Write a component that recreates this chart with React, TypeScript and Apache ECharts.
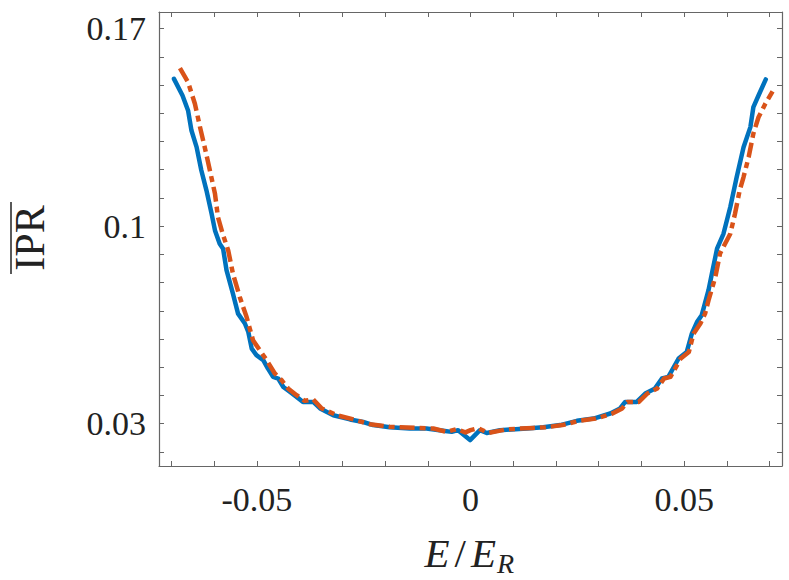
import React, { useEffect, useRef } from "react";
import * as echarts from "echarts";

// ---- data ----
const blueE = [
  -0.0694, -0.0674, -0.0661, -0.0653, -0.0641, -0.063, -0.0618, -0.0606, -0.0598, -0.0587,
  -0.0579, -0.0571, -0.0556, -0.0544, -0.0528, -0.052, -0.0512, -0.0501, -0.0485, -0.0474,
  -0.0462, -0.045, -0.0438, -0.0423, -0.0407, -0.0392, -0.0368, -0.0352, -0.0321, -0.0282,
  -0.0251, -0.0228, -0.0189, -0.0142, -0.0103, -0.0064, -0.0044, -0.0029, -0.0001, 0.0022,
  0.0038, 0.0069, 0.0132, 0.017, 0.021, 0.0249, 0.0288, 0.0327, 0.035, 0.0362,
  0.0389, 0.0409, 0.0432, 0.0448, 0.0463, 0.0487, 0.0506, 0.0518, 0.053, 0.0541,
  0.0557, 0.0565, 0.0577, 0.0592, 0.0608, 0.0623, 0.0639, 0.0655, 0.0662, 0.0674, 0.0691,
];
const blueIPR = [
  0.1522, 0.1463, 0.141, 0.1339, 0.128, 0.1198, 0.1127, 0.1045, 0.0985, 0.0938,
  0.092, 0.0844, 0.0761, 0.069, 0.0655, 0.0625, 0.0566, 0.0543, 0.0525, 0.0495,
  0.0466, 0.046, 0.043, 0.0413, 0.0395, 0.0377, 0.0377, 0.0354, 0.033, 0.0315,
  0.0306, 0.0295, 0.0287, 0.0283, 0.0283, 0.0275, 0.0271, 0.0277, 0.0242, 0.0277,
  0.0267, 0.0277, 0.0283, 0.0287, 0.0295, 0.031, 0.0318, 0.0336, 0.0354, 0.0377,
  0.0377, 0.0407, 0.0425, 0.046, 0.0466, 0.0531, 0.0554, 0.0619, 0.066, 0.0684,
  0.0773, 0.0832, 0.092, 0.0973, 0.1068, 0.1174, 0.128, 0.1351, 0.1422, 0.1463, 0.152,
];
const orangeE = [
  -0.068, -0.0661, -0.0645, -0.0633, -0.0622, -0.061, -0.0598, -0.0591, -0.058, -0.0567,
  -0.0556, -0.054, -0.0524, -0.0509, -0.0493, -0.0477, -0.0458, -0.0442, -0.0427, -0.0407,
  -0.0388, -0.0368, -0.0348, -0.0313, -0.0274, -0.0235, -0.0189, -0.0126, -0.0087, -0.0056,
  -0.0032, -0.0012, 0.0, 0.0018, 0.0041, 0.0085, 0.0147, 0.0175, 0.0215, 0.0254,
  0.0293, 0.0332, 0.0355, 0.0367, 0.0394, 0.0414, 0.0437, 0.0453, 0.0468, 0.0492,
  0.0511, 0.0522, 0.0538, 0.0549, 0.0557, 0.0573, 0.0584, 0.0608, 0.0619, 0.063,
  0.0639, 0.0651, 0.0662, 0.0674, 0.069, 0.0707,
];
const orangeIPR = [
  0.156, 0.151, 0.1434, 0.1351, 0.128, 0.1198, 0.1115, 0.1032, 0.0973, 0.0914,
  0.0832, 0.0749, 0.0678, 0.0596, 0.056, 0.0525, 0.0478, 0.0454, 0.0425, 0.0401,
  0.0381, 0.0386, 0.0354, 0.033, 0.0315, 0.0298, 0.0289, 0.0285, 0.0283, 0.0271,
  0.0281, 0.0269, 0.0277, 0.0284, 0.0267, 0.028, 0.0285, 0.0287, 0.0295, 0.031,
  0.0318, 0.0336, 0.0354, 0.0377, 0.0377, 0.0407, 0.0425, 0.046, 0.0466, 0.0531,
  0.0554, 0.0619, 0.0655, 0.069, 0.0737, 0.082, 0.0903, 0.0973, 0.1044, 0.1127,
  0.1174, 0.1245, 0.1328, 0.1386, 0.1434, 0.1478,
];
const xTickValues = [-0.07, -0.06, -0.05, -0.04, -0.03, -0.02, -0.01, 0, 0.01, 0.02, 0.03, 0.04, 0.05, 0.06, 0.07];
const xLabelValues = [-0.05, 0, 0.05];
const yTickValues = [0.02, 0.03, 0.04, 0.05, 0.06, 0.07, 0.08, 0.09, 0.1, 0.11, 0.12, 0.13, 0.14, 0.15, 0.16, 0.17];
const yLabelValues = [0.03, 0.1, 0.17];

const SERIF = "Liberation Serif";
const AXIS_COLOR = "#666666";
const TEXT_COLOR = "#222222";

export default function App() {
  const ref = useRef<HTMLDivElement>(null);

  useEffect(() => {
    if (!ref.current) return;
    const chart = echarts.init(ref.current, undefined, { renderer: "svg" });

    const tickStyle = { show: true, inside: true, length: 5, lineStyle: { color: AXIS_COLOR, width: 1 } };
    const lineStyle = { show: true, onZero: false, lineStyle: { color: AXIS_COLOR, width: 1.2 } };

    const option: any = {
      animation: false,
      backgroundColor: "#ffffff",
      grid: { left: 159, right: 7, top: 12, bottom: 114, containLabel: false },
      xAxis: [
        {
          type: "value",
          position: "bottom",
          min: -0.0729,
          max: 0.0729,
          axisLine: lineStyle,
          axisTick: { ...tickStyle, customValues: xTickValues },
          axisLabel: {
            customValues: xLabelValues,
            fontFamily: SERIF,
            fontSize: 34,
            color: TEXT_COLOR,
            margin: 16,
            formatter: (v: number) => String(Math.round(v * 100) / 100),
          },
          splitLine: { show: false },
        },
        {
          type: "value",
          position: "top",
          min: -0.0729,
          max: 0.0729,
          axisLine: lineStyle,
          axisTick: { ...tickStyle, customValues: xTickValues },
          axisLabel: { show: false },
          splitLine: { show: false },
        },
      ],
      yAxis: [
        {
          type: "value",
          position: "left",
          min: 0.015,
          max: 0.1759,
          axisLine: lineStyle,
          axisTick: { ...tickStyle, customValues: yTickValues },
          axisLabel: {
            customValues: yLabelValues,
            fontFamily: SERIF,
            fontSize: 34,
            color: TEXT_COLOR,
            margin: 13,
            formatter: (v: number) => String(Math.round(v * 100) / 100),
          },
          splitLine: { show: false },
        },
        {
          type: "value",
          position: "right",
          min: 0.015,
          max: 0.1759,
          axisLine: lineStyle,
          axisTick: { ...tickStyle, customValues: yTickValues },
          axisLabel: { show: false },
          splitLine: { show: false },
        },
      ],
      series: [
        {
          type: "line",
          name: "blue",
          xAxisIndex: 0,
          yAxisIndex: 0,
          data: blueE.map((e, i) => [e, blueIPR[i]]),
          showSymbol: false,
          lineStyle: { color: "#0072BD", width: 4.5, cap: "round", join: "round" },
          z: 2,
        },
        {
          type: "line",
          name: "orange",
          xAxisIndex: 0,
          yAxisIndex: 0,
          data: orangeE.map((e, i) => [e, orangeIPR[i]]),
          showSymbol: false,
          lineStyle: { color: "#D95319", width: 4.5, type: [15, 5, 6, 5], join: "round" },
          z: 3,
        },
      ],
      graphic: [
        {
          type: "group",
          x: 30,
          y: 238,
          rotation: Math.PI / 2,
          children: [
            {
              type: "text",
              x: 0,
              y: 0,
              style: {
                text: "IPR",
                fontFamily: SERIF,
                fontSize: 42,
                fill: TEXT_COLOR,
                align: "center",
                verticalAlign: "middle",
              },
            },
            {
              type: "line",
              shape: { x1: -36, y1: -19, x2: 36, y2: -19 },
              style: { stroke: TEXT_COLOR, lineWidth: 1.5 },
            },
          ],
        },
        {
          type: "text",
          x: 496,
          y: 553,
          style: {
            text: "{e|E}{s|/}{e|E}",
            fill: TEXT_COLOR,
            align: "right",
            verticalAlign: "middle",
            rich: {
              e: { fontFamily: SERIF, fontStyle: "italic", fontSize: 41, fill: TEXT_COLOR },
              s: { fontFamily: SERIF, fontSize: 41, fill: TEXT_COLOR, padding: [0, 5, 0, 5] },
            },
          },
        },
        {
          type: "text",
          x: 497,
          y: 563,
          style: {
            text: "R",
            fontFamily: SERIF,
            fontStyle: "italic",
            fontSize: 28,
            fill: TEXT_COLOR,
            align: "left",
            verticalAlign: "middle",
          },
        },
      ],
    };

    chart.setOption(option);
    return () => chart.dispose();
  }, []);

  return (
    <div
      ref={ref}
      style={{ position: "fixed", left: 0, top: 0, width: 789, height: 580, background: "#ffffff" }}
    />
  );
}
